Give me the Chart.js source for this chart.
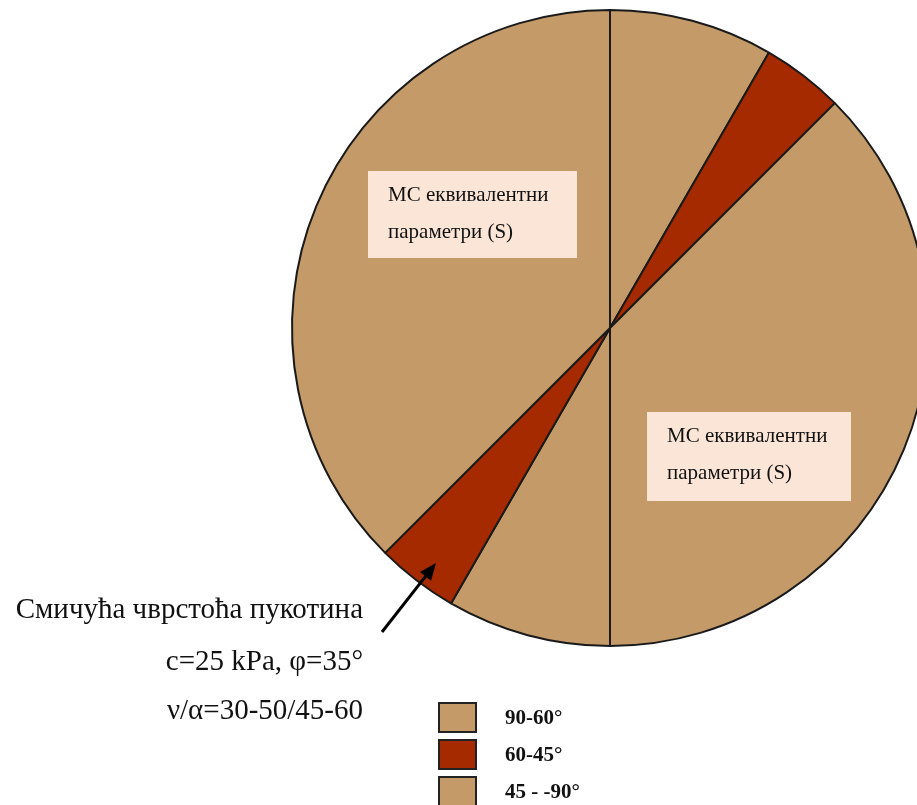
<!DOCTYPE html>
<html>
<head>
<meta charset="utf-8">
<script src="https://cdn.jsdelivr.net/npm/chart.js@4.4.1/dist/chart.umd.min.js"></script>
<style>
  html, body { margin: 0; padding: 0; background: #ffffff; overflow: hidden; }
  #wrap { position: absolute; left: 0; top: 0; width: 940px; height: 805px; }
</style>
</head>
<body>
<div id="wrap"><canvas id="c" width="940" height="805"></canvas></div>
<script>
// Dip-direction sectors (degrees of the circle, clockwise from north)
const sectorLabels = ['90-60°', '60-45°', '45 - -90°', '90-60°', '60-45°', '45 - -90°'];
const sectorSpans  = [30, 15, 135, 30, 15, 135];

// Legend entries
const legendLabels = ['90-60°', '60-45°', '45 - -90°'];

// Text blocks
const boxText = ['МС еквивалентни', 'параметри (S)'];
const noteText = ['Смичућа чврстоћа пукотина', 'c=25 kPa, φ=35°', 'ν/α=30-50/45-60'];

const TAN = '#C49A68';
const RUST = '#A52A00';
const colorFor = { '90-60°': TAN, '60-45°': RUST, '45 - -90°': TAN };

const overlay = {
  id: 'overlay',
  afterDraw(chart) {
    const ctx = chart.ctx;
    ctx.save();

    // parameter boxes
    const boxes = [
      { x: 368, y: 171, w: 209, h: 87, tx: 388, ty: [195, 232] },
      { x: 647, y: 412, w: 204, h: 89, tx: 667, ty: [436, 473] }
    ];
    boxes.forEach(b => {
      ctx.fillStyle = '#FBE5D6';
      ctx.fillRect(b.x, b.y, b.w, b.h);
      ctx.fillStyle = '#111111';
      ctx.font = '21px "Liberation Serif", "Times New Roman", serif';
      ctx.textAlign = 'left';
      ctx.textBaseline = 'middle';
      boxText.forEach((t, i) => ctx.fillText(t, b.tx, b.ty[i]));
    });

    // joint annotation
    ctx.fillStyle = '#111111';
    ctx.font = '29px "Liberation Serif", "Times New Roman", serif';
    ctx.textAlign = 'right';
    ctx.textBaseline = 'middle';
    const noteY = [610, 662, 711];
    noteText.forEach((t, i) => ctx.fillText(t, 363, noteY[i]));

    // arrow pointing at the lower sector
    const x0 = 382, y0 = 632, x1 = 436, y1 = 563;
    const ang = Math.atan2(y1 - y0, x1 - x0);
    ctx.strokeStyle = '#000000';
    ctx.lineWidth = 3;
    ctx.beginPath();
    ctx.moveTo(x0, y0);
    ctx.lineTo(x1 - 10 * Math.cos(ang), y1 - 10 * Math.sin(ang));
    ctx.stroke();
    ctx.fillStyle = '#000000';
    ctx.beginPath();
    ctx.moveTo(x1, y1);
    ctx.lineTo(x1 - 17 * Math.cos(ang) + 7 * Math.sin(ang), y1 - 17 * Math.sin(ang) - 7 * Math.cos(ang));
    ctx.lineTo(x1 - 17 * Math.cos(ang) - 7 * Math.sin(ang), y1 - 17 * Math.sin(ang) + 7 * Math.cos(ang));
    ctx.closePath();
    ctx.fill();

    // legend
    ctx.font = 'bold 21px "Liberation Serif", "Times New Roman", serif';
    ctx.textAlign = 'left';
    ctx.textBaseline = 'middle';
    legendLabels.forEach((lab, i) => {
      const y = 703 + i * 37;
      ctx.fillStyle = colorFor[lab];
      ctx.fillRect(439, y, 37, 29);
      ctx.strokeStyle = '#222222';
      ctx.lineWidth = 2;
      ctx.strokeRect(439, y, 37, 29);
      ctx.fillStyle = '#111111';
      ctx.fillText(lab, 505, y + 16);
    });

    ctx.restore();
  }
};

new Chart(document.getElementById('c'), {
  type: 'pie',
  data: {
    labels: sectorLabels,
    datasets: [{
      data: sectorSpans,
      backgroundColor: sectorLabels.map(l => colorFor[l]),
      borderColor: '#1a1a1a',
      borderWidth: 2
    }]
  },
  options: {
    responsive: false,
    animation: false,
    devicePixelRatio: 1,
    radius: 318,
    layout: { padding: { left: 292, right: 12, top: 10, bottom: 159 } },
    plugins: {
      legend: { display: false },
      tooltip: { enabled: false }
    }
  },
  plugins: [overlay]
});
</script>
</body>
</html>
